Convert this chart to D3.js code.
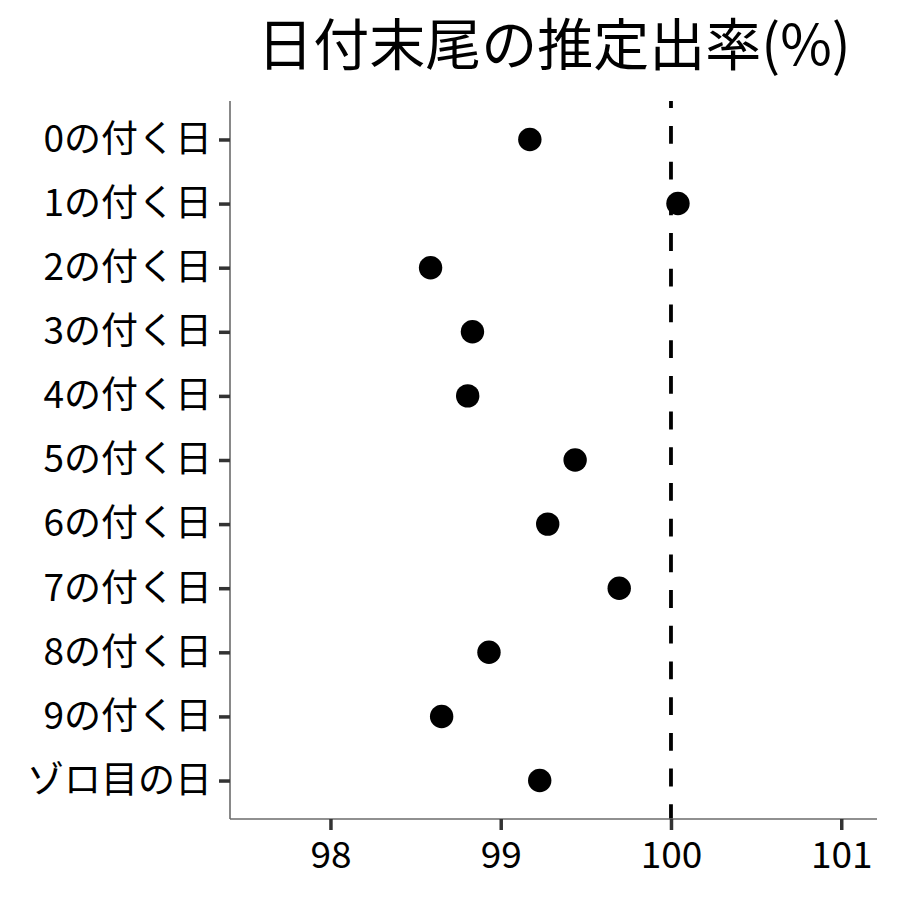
<!DOCTYPE html>
<html><head><meta charset="utf-8">
<script src="https://cdn.jsdelivr.net/npm/d3@7"></script>
<style>body{margin:0;background:#fff}svg{display:block}</style>
</head><body>
<script>
const categories = ["0の付く日","1の付く日","2の付く日","3の付く日","4の付く日","5の付く日","6の付く日","7の付く日","8の付く日","9の付く日","ゾロ目の日"];
const values = [99.171, 100.041, 98.588, 98.834, 98.806, 99.437, 99.276, 99.696, 98.931, 98.653, 99.229];
const xTicks = [98, 99, 100, 101];
const refLine = 100;
const title = "日付末尾の推定出率(%)";

const W = 900, H = 900;
const pLeft = 230, pRight = 877, pTop = 101, pBottom = 819;
const font = "'Noto Sans CJK JP', 'Noto Sans', sans-serif";

const svg = d3.select("body").append("svg").attr("width", W).attr("height", H);

const x = d3.scaleLinear().domain([97.41, 101.21]).range([pLeft, pRight]);
const y = d3.scalePoint().domain(categories).range([pTop, pBottom]).padding(0.6);

// reference line
svg.append("line")
  .attr("x1", x(refLine)).attr("x2", x(refLine))
  .attr("y1", pTop).attr("y2", pBottom)
  .attr("stroke", "#000").attr("stroke-width", 3.8)
  .attr("stroke-dasharray", "17.8,17.9")
  .attr("stroke-dashoffset", 10.7);

// points
svg.append("g").selectAll("circle").data(values).join("circle")
  .attr("cx", d => x(d)).attr("cy", (d, i) => y(categories[i]))
  .attr("r", 11.7).attr("fill", "#000");

// x axis
const gx = svg.append("g").attr("transform", `translate(0,${pBottom})`)
  .call(d3.axisBottom(x).tickValues(xTicks).tickSize(11).tickPadding(12).tickFormat(d3.format("d")));
gx.select(".domain").attr("stroke", "#6b6b6b").attr("stroke-width", 1.6)
  .attr("d", `M${pLeft},0H${pRight}`);
gx.selectAll(".tick line").attr("stroke", "#333").attr("stroke-width", 3.5);
gx.selectAll(".tick text").attr("fill", "#000").style("font-family", font).style("font-size", "37px");

// y axis
const gy = svg.append("g").attr("transform", `translate(${pLeft},0)`)
  .call(d3.axisLeft(y).tickSize(11).tickPadding(7));
gy.select(".domain").attr("stroke", "#6b6b6b").attr("stroke-width", 1.6)
  .attr("d", `M0,${pTop}V${pBottom}`);
gy.selectAll(".tick line").attr("stroke", "#333").attr("stroke-width", 3.5);
gy.selectAll(".tick text").attr("fill", "#000").style("font-family", font).style("font-size", "37px");

// title
svg.append("text")
  .attr("x", 554).attr("y", 65)
  .attr("text-anchor", "middle")
  .style("font-family", font).style("font-size", "56px").attr("fill", "#000")
  .text(title);
</script>
</body></html>
